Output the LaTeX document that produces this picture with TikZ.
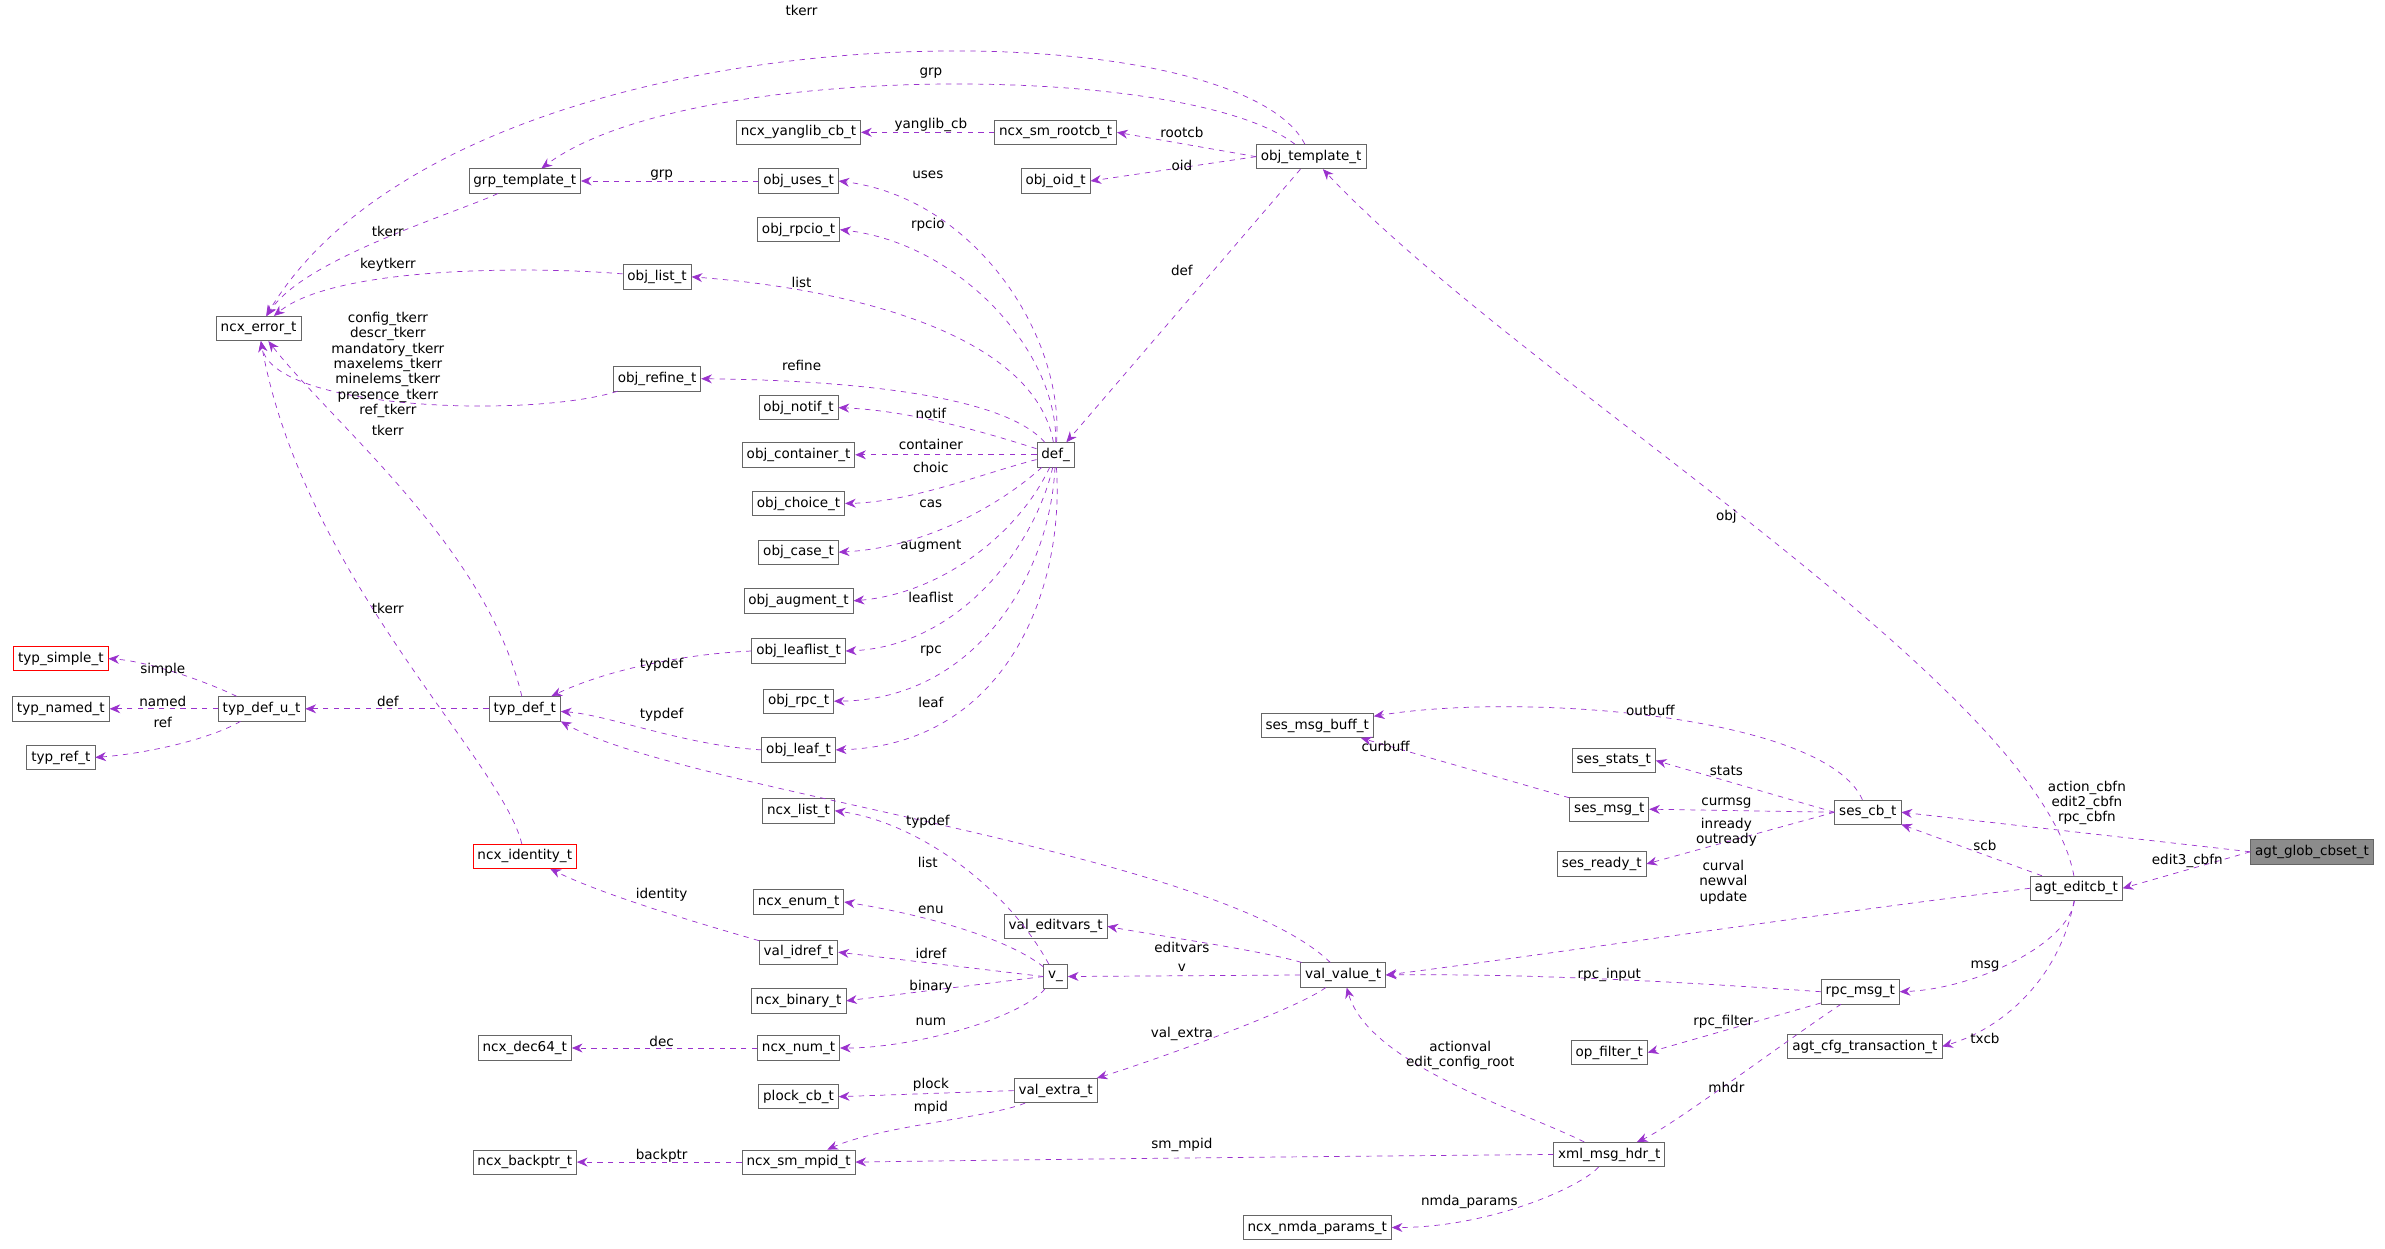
\documentclass[tikz,border=0pt]{standalone}
\usepackage{fontspec}
\setmainfont{DejaVu Sans}
\usetikzlibrary{arrows.meta}
\definecolor{edgecol}{HTML}{9A32CD}
\tikzset{
  cls/.style={draw=black!60, rectangle, minimum height=0.48cm, inner sep=2.5pt, font=\fontsize{7.6}{8.6}\selectfont},
  redcls/.style={cls, draw=red},
  curcls/.style={cls, fill=black!45},
  link/.style={edgecol, dashed, -{Stealth[length=6pt,width=5pt]}},
  lab/.style={font=\fontsize{7.6}{8.6}\selectfont, align=center, inner sep=0pt}
}
\begin{document}
\begin{tikzpicture}[x=0.03cm,y=-0.03cm]
\useasboundingbox (0,0) rectangle (1568,821);
% classes
\node[curcls] (glob) at (1520,560) {agt\_glob\_cbset\_t};
\node[cls] (editcb) at (1365,584) {agt\_editcb\_t};
\node[cls] (sescb) at (1228,534) {ses\_cb\_t};
\node[cls] (msgbuff) at (866,477) {ses\_msg\_buff\_t};
\node[cls] (stats) at (1061,500) {ses\_stats\_t};
\node[cls] (sesmsg) at (1058,532) {ses\_msg\_t};
\node[cls] (ready) at (1053,568) {ses\_ready\_t};
\node[cls] (value) at (883,641) {val\_value\_t};
\node[cls] (rpcmsg) at (1223,652) {rpc\_msg\_t};
\node[cls] (txn) at (1226,688) {agt\_cfg\_transaction\_t};
\node[cls] (filter) at (1058,692) {op\_filter\_t};
\node[cls] (xmlhdr) at (1058,759) {xml\_msg\_hdr\_t};
\node[cls] (nmda) at (866,807) {ncx\_nmda\_params\_t};
\node[cls] (objtpl) at (862,103) {obj\_template\_t};
\node[cls] (rootcb) at (694,87) {ncx\_sm\_rootcb\_t};
\node[cls] (yanglib) at (525,87) {ncx\_yanglib\_cb\_t};
\node[cls] (oid) at (694,119) {obj\_oid\_t};
\node[cls] (grp) at (345,119) {grp\_template\_t};
\node[cls] (uses) at (525,119) {obj\_uses\_t};
\node[cls] (rpcio) at (525,151) {obj\_rpcio\_t};
\node[cls] (olist) at (432,182) {obj\_list\_t};
\node[cls] (err) at (170,216) {ncx\_error\_t};
\node[cls] (refine) at (432,249) {obj\_refine\_t};
\node[cls] (notif) at (525,268) {obj\_notif\_t};
\node[cls] (container) at (525,299) {obj\_container\_t};
\node[cls] (def) at (694,299) {def\_};
\node[cls] (choice) at (525,331) {obj\_choice\_t};
\node[cls] (case) at (525,363) {obj\_case\_t};
\node[cls] (augment) at (525,395) {obj\_augment\_t};
\node[cls] (leaflist) at (525,428) {obj\_leaflist\_t};
\node[cls] (rpc) at (525,461) {obj\_rpc\_t};
\node[cls] (leaf) at (525,493) {obj\_leaf\_t};
\node[redcls] (simple) at (40,433) {typ\_simple\_t};
\node[cls] (named) at (40,466) {typ\_named\_t};
\node[cls] (tref) at (40,498) {typ\_ref\_t};
\node[cls] (defu) at (172,466) {typ\_def\_u\_t};
\node[cls] (typdef) at (345,466) {typ\_def\_t};
\node[redcls] (ident) at (345,563) {ncx\_identity\_t};
\node[cls] (nlist) at (525,533) {ncx\_list\_t};
\node[cls] (enum) at (525,593) {ncx\_enum\_t};
\node[cls] (idref) at (525,626) {val\_idref\_t};
\node[cls] (binary) at (525,658) {ncx\_binary\_t};
\node[cls] (num) at (525,689) {ncx\_num\_t};
\node[cls] (dec) at (345,689) {ncx\_dec64\_t};
\node[cls] (v) at (694,642) {v\_};
\node[cls] (editvars) at (694,609) {val\_editvars\_t};
\node[cls] (extra) at (694,717) {val\_extra\_t};
\node[cls] (plock) at (525,721) {plock\_cb\_t};
\node[cls] (mpid) at (525,764) {ncx\_sm\_mpid\_t};
\node[cls] (backptr) at (345,764) {ncx\_backptr\_t};

% agt / ses / rpc side
\draw[link] (glob.west) -- (sescb.east);
\node[lab] at (1372,528) {action\_cbfn\\edit2\_cbfn\\rpc\_cbfn};
\draw[link] (glob.west) -- (editcb.east);
\node[lab] at (1438,566) {edit3\_cbfn};
\draw[link] (editcb) -- (sescb);
\node[lab] at (1305,556) {scb};
\draw[link] (editcb) .. controls (1340,450) and (1000,250) .. (objtpl);
\node[lab] at (1135,340) {obj};
\draw[link] (editcb.west) .. controls (1200,600) and (1000,630) .. (value.east);
\node[lab] at (1133,580) {curval\\newval\\update};
\draw[link] (editcb) .. controls (1360,620) and (1300,650) .. (rpcmsg.east);
\node[lab] at (1305,635) {msg};
\draw[link] (editcb) .. controls (1355,640) and (1320,675) .. (txn.east);
\node[lab] at (1305,683) {txcb};
\draw[link] (sescb) .. controls (1200,470) and (1000,455) .. (msgbuff);
\node[lab] at (1085,467) {outbuff};
\draw[link] (sescb.west) -- (stats.east);
\node[lab] at (1135,507) {stats};
\draw[link] (sescb.west) -- (sesmsg.east);
\node[lab] at (1135,528) {curmsg};
\draw[link] (sescb.west) -- (ready.east);
\node[lab] at (1135,547) {inready\\outready};
\draw[link] (sesmsg) -- (msgbuff);
\node[lab] at (911,491) {curbuff};
\draw[link] (rpcmsg.west) .. controls (1100,645) and (1000,640) .. (value.east);
\node[lab] at (1058,641) {rpc\_input};
\draw[link] (rpcmsg) -- (filter.east);
\node[lab] at (1133,672) {rpc\_filter};
\draw[link] (rpcmsg) .. controls (1180,680) and (1100,740) .. (xmlhdr);
\node[lab] at (1135,715) {mhdr};
\draw[link] (xmlhdr) .. controls (1000,730) and (900,700) .. (value);
\node[lab] at (960,694) {actionval\\edit\_config\_root};
\draw[link] (xmlhdr.west) .. controls (900,760) and (700,762) .. (mpid.east);
\node[lab] at (777,753) {sm\_mpid};
\draw[link] (xmlhdr) .. controls (1040,780) and (980,807) .. (nmda.east);
\node[lab] at (966,790) {nmda\_params};

% values
\draw[link] (value) .. controls (830,625) and (760,615) .. (editvars.east);
\node[lab] at (777,623) {editvars};
\draw[link] (value.west) -- (v.east);
\node[lab] at (777,636) {v};
\draw[link] (value) .. controls (850,665) and (750,700) .. (extra);
\node[lab] at (777,680) {val\_extra};
\draw[link] (value) .. controls (800,560) and (450,520) .. (typdef.south east);
\node[lab] at (610,540) {typdef};
\draw[link] (v) .. controls (660,580) and (600,540) .. (nlist.east);
\node[lab] at (610,567) {list};
\draw[link] (v) .. controls (660,615) and (600,600) .. (enum.east);
\node[lab] at (612,598) {enu};
\draw[link] (v.west) -- (idref.east);
\node[lab] at (612,627) {idref};
\draw[link] (v.west) -- (binary.east);
\node[lab] at (612,649) {binary};
\draw[link] (v) .. controls (670,670) and (600,689) .. (num.east);
\node[lab] at (612,672) {num};
\draw[link] (extra.west) -- (plock.east);
\node[lab] at (612,713) {plock};
\draw[link] (extra) .. controls (650,735) and (580,740) .. (mpid);
\node[lab] at (612,728) {mpid};
\draw[link] (num.west) -- (dec.east);
\node[lab] at (435,685) {dec};
\draw[link] (mpid.west) -- (backptr.east);
\node[lab] at (435,760) {backptr};
\draw[link] (idref) .. controls (470,610) and (400,590) .. (ident);
\node[lab] at (435,588) {identity};
\draw[link] (ident) .. controls (330,500) and (200,380) .. (err);
\node[lab] at (255,400) {tkerr};

% types
\draw[link] (typdef.west) -- (defu.east);
\node[lab] at (255,461) {def};
\draw[link] (typdef) .. controls (320,360) and (220,280) .. (err);
\node[lab] at (255,283) {tkerr};
\draw[link] (defu) .. controls (140,450) and (100,435) .. (simple.east);
\node[lab] at (107,440) {simple};
\draw[link] (defu.west) -- (named.east);
\node[lab] at (107,461) {named};
\draw[link] (defu) .. controls (140,485) and (100,495) .. (tref.east);
\node[lab] at (107,475) {ref};
\draw[link] (leaflist.west) .. controls (450,430) and (400,440) .. (typdef);
\node[lab] at (435,437) {typdef};
\draw[link] (leaf.west) .. controls (450,490) and (400,470) .. (typdef);
\node[lab] at (435,470) {typdef};

% objects
\draw[link] (def) .. controls (700,220) and (640,130) .. (uses.east);
\node[lab] at (610,115) {uses};
\draw[link] (def) .. controls (695,230) and (630,160) .. (rpcio.east);
\node[lab] at (610,148) {rpcio};
\draw[link] (def) .. controls (680,220) and (560,190) .. (olist.east);
\node[lab] at (527,186) {list};
\draw[link] (def) .. controls (660,260) and (560,250) .. (refine.east);
\node[lab] at (527,240) {refine};
\draw[link] (def) .. controls (650,285) and (600,270) .. (notif.east);
\node[lab] at (612,272) {notif};
\draw[link] (def.west) -- (container.east);
\node[lab] at (612,292) {container};
\draw[link] (def) .. controls (650,310) and (600,330) .. (choice.east);
\node[lab] at (612,307) {choic};
\draw[link] (def) .. controls (660,330) and (610,360) .. (case.east);
\node[lab] at (612,331) {cas};
\draw[link] (def) .. controls (670,350) and (620,390) .. (augment.east);
\node[lab] at (612,359) {augment};
\draw[link] (def) .. controls (680,360) and (630,425) .. (leaflist.east);
\node[lab] at (612,393) {leaflist};
\draw[link] (def) .. controls (690,380) and (640,460) .. (rpc.east);
\node[lab] at (612,428) {rpc};
\draw[link] (def) .. controls (700,390) and (660,490) .. (leaf.east);
\node[lab] at (612,462) {leaf};
\draw[link] (objtpl) -- (def);
\node[lab] at (777,178) {def};
\draw[link] (objtpl) .. controls (780,40) and (450,40) .. (grp);
\node[lab] at (612,48) {grp};
\draw[link] (objtpl) .. controls (810,0) and (300,0) .. (err);
\node[lab] at (527,7) {tkerr};
\draw[link] (objtpl.west) -- (rootcb.east);
\node[lab] at (777,87) {rootcb};
\draw[link] (objtpl.west) -- (oid.east);
\node[lab] at (777,109) {oid};
\draw[link] (rootcb.west) -- (yanglib.east);
\node[lab] at (612,82) {yanglib\_cb};
\draw[link] (uses.west) -- (grp.east);
\node[lab] at (435,115) {grp};
\draw[link] (grp) .. controls (300,140) and (200,170) .. (err);
\node[lab] at (255,152) {tkerr};
\draw[link] (olist) .. controls (350,175) and (220,175) .. (err);
\node[lab] at (255,174) {keytkerr};
\draw[link] (refine) .. controls (350,275) and (180,270) .. (err);
\node[lab] at (255,240) {config\_tkerr\\descr\_tkerr\\mandatory\_tkerr\\maxelems\_tkerr\\minelems\_tkerr\\presence\_tkerr\\ref\_tkerr};
\end{tikzpicture}
\end{document}
